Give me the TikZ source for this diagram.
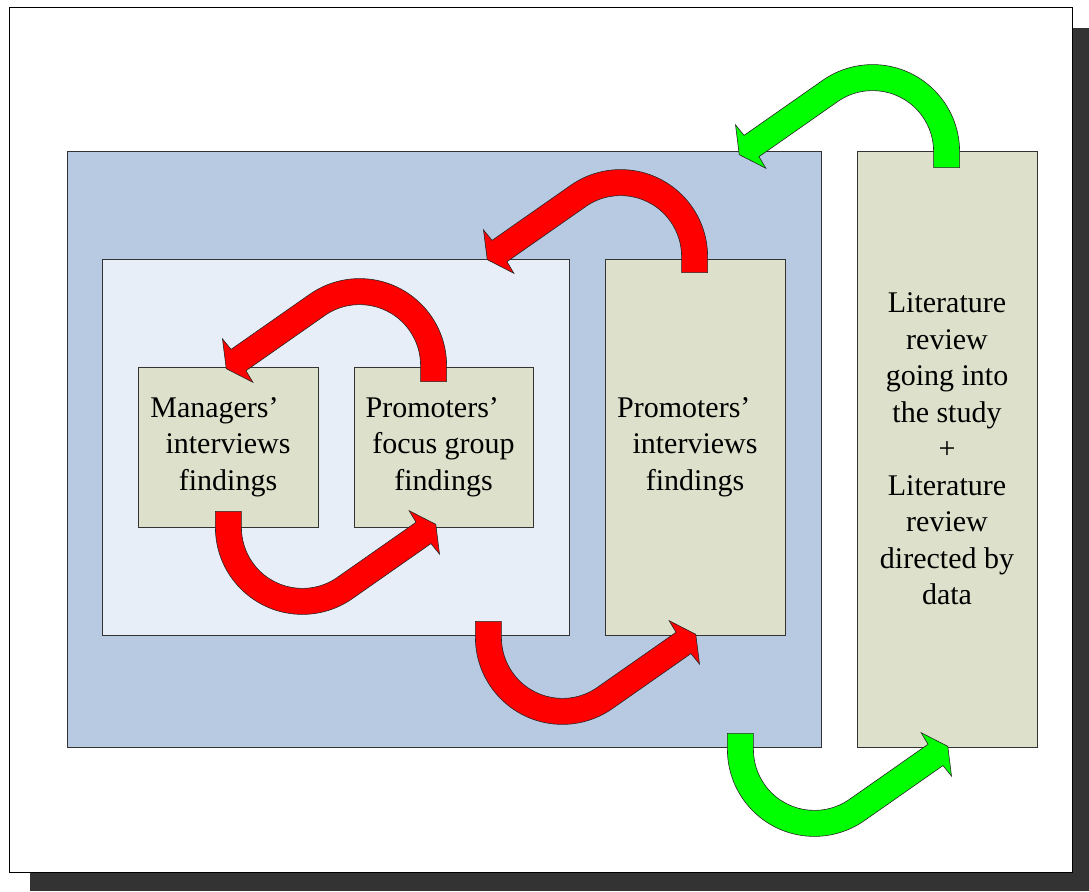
\documentclass[tikz,border=0pt]{standalone}
\usepackage{fontspec}
\setmainfont{Liberation Serif}
\definecolor{studyblue}{HTML}{B8C9E2}
\definecolor{innerblue}{HTML}{E8EEF8}
\definecolor{khaki}{HTML}{DDE0CA}
\definecolor{shadow}{HTML}{333333}
\tikzset{
        every node/.style={font=\fontsize{30}{36.5}\selectfont},
        box/.style={draw=black!80, line width=0.8pt, inner sep=0pt},
        study/.style={box, fill=studyblue, minimum width=754pt, minimum height=596pt},
        inner/.style={box, fill=innerblue, minimum width=467pt, minimum height=376pt},
        finding/.style={box, fill=khaki, align=center, minimum width=180pt},
        redarrow/.style={fill=red, draw=black!85, line width=0.6pt},
        greenarrow/.style={fill=green, draw=black!85, line width=0.6pt},
        uturn/.pic={
          \draw[#1] (87,-16) -- (87,0) arc[start angle=0, end angle=125, radius=87]
            -- (-128.54,16.20) -- (-137.10,26.69) -- (-133.37,-3.05) -- (-106.70,-16.73)
            -- (-113.62,-5.10) -- (-34.98,49.97) arc[start angle=125, end angle=0, radius=61]
            -- (61,-16) -- cycle;
        }
          }

\begin{document}
\begin{tikzpicture}[x=1pt, y=1pt]
        \useasboundingbox (0,0) rectangle (1089,891);
        % page with its shadow
        \fill[shadow] (30,0) rectangle (1089,863);
        \draw[fill=white, line width=0.8pt] (9,19) rectangle (1072,884);
        % boxes
        \node[study] (study) at (444,442) {};
        \node[inner] (inner) at (335.5,444) {};
        \node[finding, minimum height=160pt] (managers) at (228,444)
          {Managers’\hspace*{0.9em}\\interviews\\findings};
        \node[finding, minimum width=179pt, minimum height=160pt] (focus) at (443.5,444)
          {Promoters’\hspace*{0.75em}\\focus group\\findings};
        \node[finding, minimum height=376pt] (interviews) at (695,444)
          {Promoters’\hspace*{0.75em}\\interviews\\findings};
        \node[finding, minimum height=596pt] (literature) at (947,442)
          {Literature\\review\\going into\\the study\\+\\Literature\\review\\directed by\\data};
        % arrows
        \pic at ([shift={(6,1)}]focus.north west) {uturn=redarrow};
        \pic[rotate=180] at ([shift={(-16,0)}]managers.south east) {uturn=redarrow};
        \pic at ([shift={(16,2)}]interviews.north west) {uturn=redarrow};
        \pic[rotate=180] at ([shift={(-7,-2)}]inner.south east) {uturn=redarrow};
        \pic at ([shift={(16,-1)}]literature.north west) {uturn=greenarrow};
        \pic[rotate=180] at ([shift={(-7,-2)}]study.south east) {uturn=greenarrow};
      \end{tikzpicture}
\end{document}
